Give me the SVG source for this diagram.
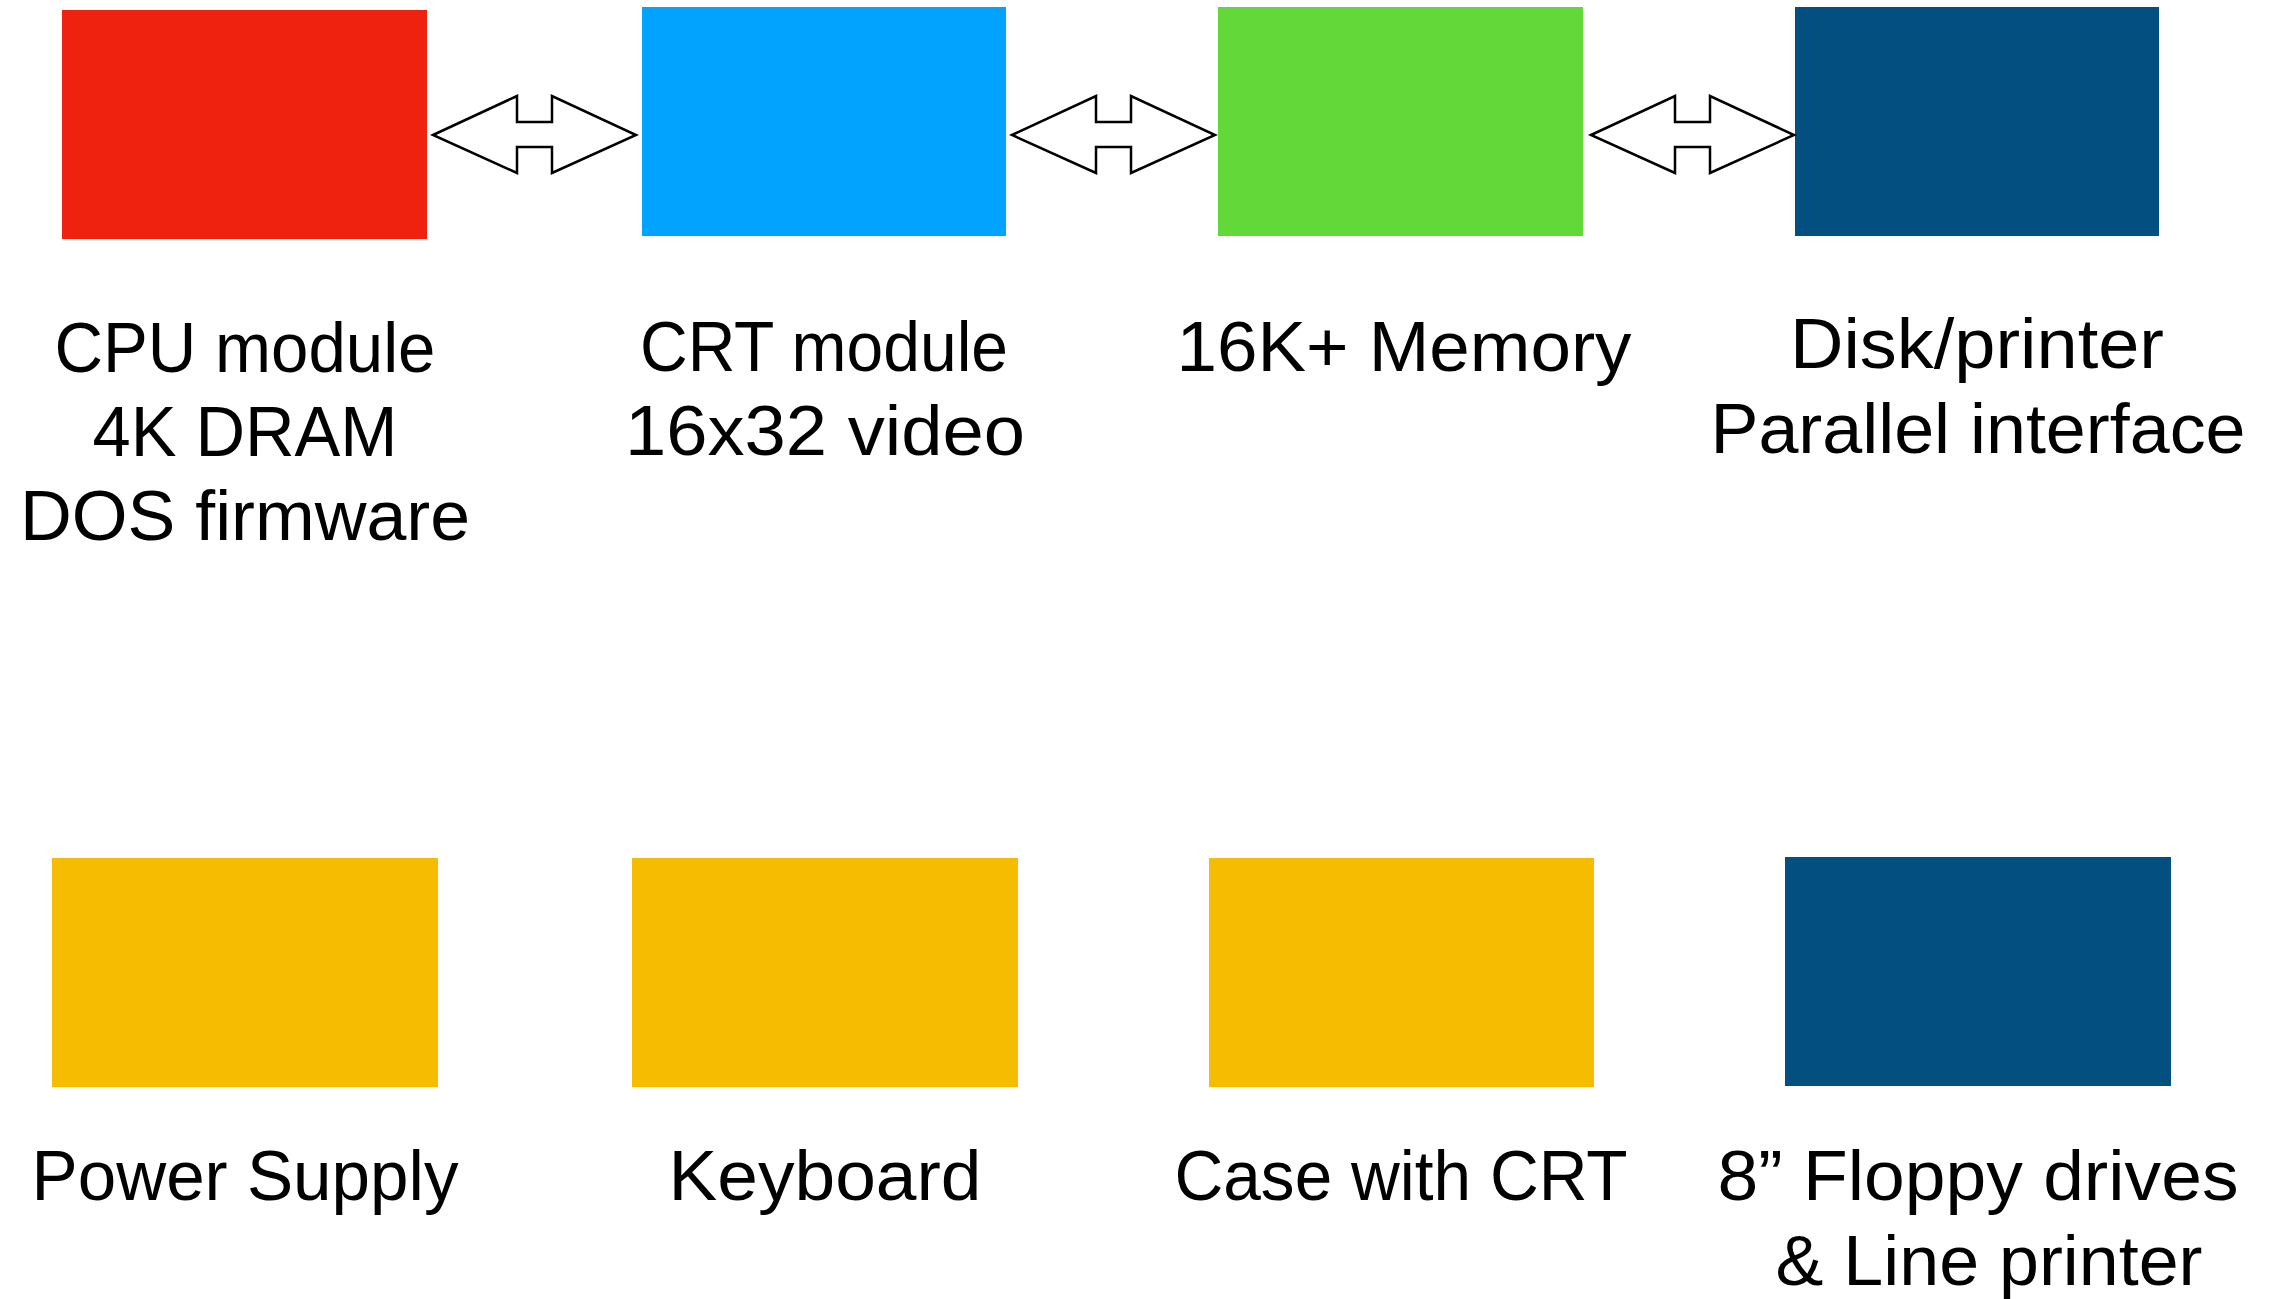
<svg xmlns="http://www.w3.org/2000/svg" width="2277" height="1299" viewBox="0 0 2277 1299">
<style>
  .lbl { font-family: "Liberation Sans", Arial, sans-serif; font-size: 70px; fill: #000; text-anchor: middle; }
  .conn { fill: #fff; stroke: #000; stroke-width: 2.5; stroke-linejoin: miter; }
  .red { fill: #EE220F; }
  .blue { fill: #02A2FF; }
  .green { fill: #62D839; }
  .navy { fill: #034F7F; }
  .yellow { fill: #F6BC02; }
</style>
<rect width="2277" height="1299" fill="#fff"/>
<g id="cpu">
  <rect class="red" x="62" y="10" width="365" height="229"/>
  <text class="lbl" x="245" y="372" textLength="381" lengthAdjust="spacingAndGlyphs">CPU module</text>
  <text class="lbl" x="245" y="456" textLength="305" lengthAdjust="spacingAndGlyphs">4K DRAM</text>
  <text class="lbl" x="245" y="540" textLength="450" lengthAdjust="spacingAndGlyphs">DOS firmware</text>
</g>
<g id="crt">
  <rect class="blue" x="642" y="7" width="364" height="229"/>
  <text class="lbl" x="824" y="371" textLength="368" lengthAdjust="spacingAndGlyphs">CRT module</text>
  <text class="lbl" x="825" y="455" textLength="400" lengthAdjust="spacingAndGlyphs">16x32 video</text>
</g>
<g id="memory">
  <rect class="green" x="1218" y="7" width="365" height="229"/>
  <text class="lbl" x="1404" y="371" textLength="455" lengthAdjust="spacingAndGlyphs">16K+ Memory</text>
</g>
<g id="disk">
  <rect class="navy" x="1795" y="7" width="364" height="229"/>
  <text class="lbl" x="1977" y="368" textLength="374" lengthAdjust="spacingAndGlyphs">Disk/printer</text>
  <text class="lbl" x="1978" y="453" textLength="535" lengthAdjust="spacingAndGlyphs">Parallel interface</text>
</g>
<g id="power">
  <rect class="yellow" x="52" y="858" width="386" height="229"/>
  <text class="lbl" x="245" y="1200" textLength="427" lengthAdjust="spacingAndGlyphs">Power Supply</text>
</g>
<g id="keyboard">
  <rect class="yellow" x="632" y="858" width="386" height="229"/>
  <text class="lbl" x="825" y="1200" textLength="313" lengthAdjust="spacingAndGlyphs">Keyboard</text>
</g>
<g id="case">
  <rect class="yellow" x="1209" y="858" width="385" height="229"/>
  <text class="lbl" x="1401" y="1200" textLength="453" lengthAdjust="spacingAndGlyphs">Case with CRT</text>
</g>
<g id="floppy">
  <rect class="navy" x="1785" y="857" width="386" height="229"/>
  <text class="lbl" x="1978" y="1200" textLength="521" lengthAdjust="spacingAndGlyphs">8” Floppy drives</text>
  <text class="lbl" x="1989" y="1285" textLength="427" lengthAdjust="spacingAndGlyphs">&amp; Line printer</text>
</g>
<g id="connectors">
  <path class="conn" d="M433,135 L517,96 L517,122 L552,122 L552,96 L636,135 L552,173 L552,147 L517,147 L517,173 Z"/>
  <path class="conn" d="M1012,135 L1096,96 L1096,122 L1131,122 L1131,96 L1215,135 L1131,173 L1131,147 L1096,147 L1096,173 Z"/>
  <path class="conn" d="M1591,135 L1675,96 L1675,122 L1710,122 L1710,96 L1794,135 L1710,173 L1710,147 L1675,147 L1675,173 Z"/>
</g>
</svg>
